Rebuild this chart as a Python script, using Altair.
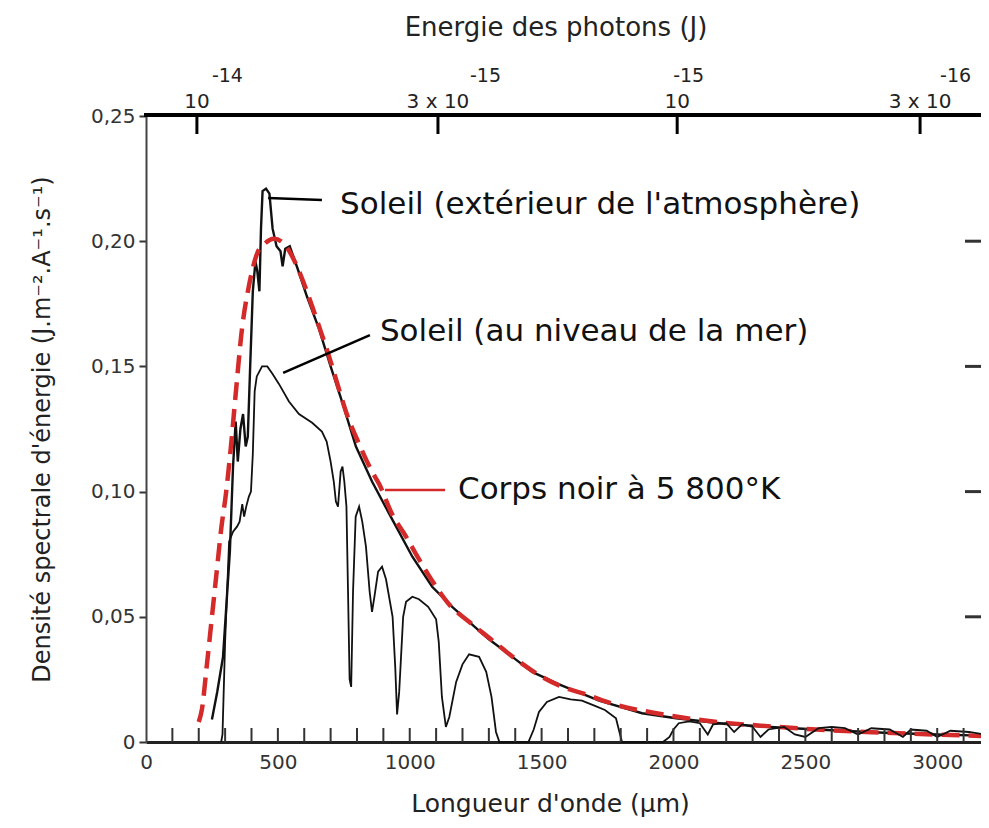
import altair as alt
import pandas as pd

# ---------------- data ----------------
# Corps noir à 5 800 K (red dashed)
bb_wl = [200, 212, 230, 250, 270, 285, 303, 322, 341, 364, 390, 421, 450, 485, 531, 554,
         592, 630, 656, 694, 720, 758, 808, 857, 884, 933, 986, 1035, 1100, 1149, 1225,
         1308, 1403, 1502, 1580, 1668, 1794, 1919, 2033, 2184, 2374, 2541, 2730, 2958, 3180]
bb_val = [0.008, 0.013, 0.030, 0.050, 0.070, 0.085, 0.099, 0.118, 0.140, 0.165, 0.182, 0.195,
          0.199, 0.201, 0.198, 0.194, 0.185, 0.174, 0.166, 0.154, 0.145, 0.132, 0.119, 0.108,
          0.103, 0.091, 0.082, 0.073, 0.062, 0.055, 0.048, 0.041, 0.033, 0.026, 0.022, 0.019,
          0.0145, 0.0118, 0.0098, 0.0078, 0.0062, 0.0050, 0.0040, 0.0031, 0.0024]

# Soleil (extérieur de l'atmosphère)
et_wl = [250, 270, 292, 305, 318, 330, 340, 348, 358, 368, 378, 386, 395, 405, 415, 422, 430,
         436, 442, 455, 468, 480, 495, 510, 518, 528, 545, 575, 610, 656, 700, 740, 796, 857,
         933, 1010, 1085, 1161, 1225, 1300, 1389, 1464, 1566, 1718, 1881, 2010, 2200, 2400,
         2600, 2800, 3000, 3180]
et_val = [0.009, 0.020, 0.034, 0.055, 0.076, 0.110, 0.128, 0.112, 0.125, 0.131, 0.118, 0.122,
          0.150, 0.180, 0.192, 0.188, 0.180, 0.205, 0.220, 0.221, 0.219, 0.205, 0.198, 0.196,
          0.190, 0.197, 0.198, 0.189, 0.178, 0.165, 0.150, 0.137, 0.118, 0.104, 0.089, 0.074,
          0.062, 0.054, 0.048, 0.041, 0.034, 0.028, 0.023, 0.0165, 0.0115, 0.0095, 0.0072,
          0.0058, 0.0047, 0.0037, 0.0030, 0.0025]

# Soleil (au niveau de la mer)
sea_wl = [285, 290, 300, 315, 330, 345, 355, 365, 372, 380, 390, 398, 405, 412, 420, 440, 460,
          480, 504, 542, 580, 630, 667, 685, 700, 712, 720, 728, 738, 745, 752, 760, 766, 772,
          778, 785, 795, 808, 820, 834, 848, 857, 866, 880, 895, 910, 925, 935, 945, 952, 960,
          967, 975, 986, 1010, 1035, 1070, 1100, 1110, 1122, 1137, 1150, 1176, 1200, 1225,
          1263, 1290, 1310, 1327, 1340, 1450, 1470, 1490, 1520, 1566, 1610, 1653, 1700, 1740,
          1782, 1795, 1805, 1960, 1985, 2000, 2020, 2060, 2100, 2130, 2150, 2200, 2230, 2260,
          2300, 2330, 2360, 2420, 2460, 2500, 2550, 2600, 2650, 2700, 2750, 2820, 2870, 2900,
          2960, 3000, 3050, 3120, 3180]
sea_val = [0.0, 0.003, 0.040, 0.080, 0.084, 0.086, 0.088, 0.095, 0.090, 0.094, 0.098, 0.100,
           0.115, 0.140, 0.146, 0.150, 0.150, 0.147, 0.143, 0.136, 0.131, 0.1275, 0.124, 0.120,
           0.112, 0.104, 0.096, 0.094, 0.108, 0.110, 0.104, 0.094, 0.060, 0.025, 0.022, 0.060,
           0.090, 0.094, 0.088, 0.078, 0.060, 0.052, 0.058, 0.068, 0.070, 0.065, 0.056, 0.050,
           0.030, 0.011, 0.020, 0.034, 0.050, 0.056, 0.058, 0.057, 0.054, 0.049, 0.040, 0.018,
           0.006, 0.010, 0.024, 0.031, 0.035, 0.034, 0.028, 0.018, 0.004, 0.0, 0.0, 0.005,
           0.012, 0.016, 0.018, 0.017, 0.0165, 0.0145, 0.0128, 0.0095, 0.004, 0.0, 0.0, 0.002,
           0.005, 0.0075, 0.0082, 0.0075, 0.003, 0.007, 0.0075, 0.004, 0.007, 0.006, 0.002,
           0.005, 0.006, 0.003, 0.002, 0.0055, 0.006, 0.0055, 0.003, 0.0055, 0.005, 0.002,
           0.005, 0.0045, 0.002, 0.0045, 0.004, 0.003]

x_label_values = [0, 500, 1000, 1500, 2000, 2500, 3000]
y_tick_values = [0, 0.05, 0.10, 0.15, 0.20, 0.25]
minor_ticks = list(range(100, 3200, 100))
right_ticks = [0.05, 0.10, 0.15, 0.20]

top_tick_pos = [193, 1107, 2014, 2935]
top_base = ["10", "3 x 10", "10", "3 x 10"]
top_exp = ["-14", "-15", "-15", "-16"]
top_exp_dx = [15, 32, -4, 20]

ann_text = ["Soleil (extérieur de l'atmosphère)", "Soleil (au niveau de la mer)",
            "Corps noir à 5 800°K"]
ann_wl = [736, 887, 1183]
ann_v = [0.2145, 0.1637, 0.1006]

lead_x1 = [463, 849, 906]
lead_y1 = [0.2173, 0.1625, 0.1006]
lead_x2 = [667, 520, 1134]
lead_y2 = [0.2165, 0.1474, 0.1006]
lead_col = ["black", "black", "#d42a2a"]

# ---------------- chart ----------------
W, H = 835, 626
XMAX = 3166
FONT = "DejaVu Sans"

xs = alt.Scale(domain=[0, XMAX], nice=False, zero=False)
ys = alt.Scale(domain=[0, 0.25], nice=False)

x_axis = alt.Axis(values=x_label_values, format="d", labelFont=FONT, labelFontSize=20,
                  labelColor="#333", labelFlush=False, tickSize=0, labelPadding=10,
                  domainColor="#222", domainWidth=3, grid=False,
                  title="Longueur d'onde (µm)", titleFont=FONT, titleFontSize=25,
                  titleFontWeight="normal", titleColor="#222", titlePadding=19,
                  titleX=404, titleAlign="center")
y_axis = alt.Axis(values=y_tick_values,
                  labelExpr="datum.value == 0 ? '0' : replace(format(datum.value, '.2f'), '.', ',')",
                  labelFont=FONT, labelFontSize=20, labelColor="#333", labelFlush=False,
                  tickSize=7, tickColor="#333", tickWidth=2, labelPadding=4,
                  domainColor="#444", domainWidth=2, grid=False,
                  title="Densité spectrale d'énergie (J.m⁻².A⁻¹.s⁻¹)", titleFont=FONT,
                  titleFontSize=24, titleFontWeight="normal", titleColor="#222",
                  titlePadding=36)


def X(f):
    return alt.X(f, scale=xs, axis=x_axis)


def Y(f):
    return alt.Y(f, scale=ys, axis=y_axis)


bb = pd.DataFrame({"wl": bb_wl, "v": bb_val})
et = pd.DataFrame({"wl": et_wl, "v": et_val})
sea = pd.DataFrame({"wl": sea_wl, "v": sea_val})

et_line = alt.Chart(et).mark_line(color="#111", strokeWidth=2.4).encode(
    x=X("wl:Q"), y=Y("v:Q"))
bb_line = alt.Chart(bb).mark_line(color="#d42a2a", strokeWidth=4.5, strokeDash=[18, 9],
                                  interpolate="monotone").encode(x=X("wl:Q"), y=Y("v:Q"))
sea_line = alt.Chart(sea).mark_line(color="#111", strokeWidth=1.8).encode(
    x=X("wl:Q"), y=Y("v:Q"))

# bottom inward ticks
minor = alt.Chart(pd.DataFrame({"wl": minor_ticks})).mark_rule(color="#333", strokeWidth=2).encode(
    x=X("wl:Q"), y=alt.value(H), y2=alt.value(H - 14))
# right inward ticks
right = alt.Chart(pd.DataFrame({"v": right_ticks})).mark_rule(color="#333", strokeWidth=3).encode(
    y=Y("v:Q"), x=alt.value(W - 16), x2=alt.value(W))
# top axis line
top_line = alt.Chart(pd.DataFrame({"a": [0]})).mark_rule(color="black", strokeWidth=4).encode(
    x=alt.value(-2), x2=alt.value(W), y=alt.value(-1))

top_df = pd.DataFrame({"wl": top_tick_pos, "base": top_base, "exp": top_exp,
                       "i": list(range(len(top_tick_pos)))})
top_ticks = alt.Chart(top_df).mark_rule(color="black", strokeWidth=3).encode(
    x=X("wl:Q"), y=alt.value(0), y2=alt.value(18))
top_base_txt = alt.Chart(top_df).mark_text(font=FONT, fontSize=20, color="#222", align="center",
                                           baseline="alphabetic").encode(
    x=X("wl:Q"), y=alt.value(-8), text="base:N")
top_exp_layers = [
    alt.Chart(top_df).transform_filter(f"datum.i == {k}").mark_text(
        font=FONT, fontSize=19, color="#222", align="left", baseline="alphabetic",
        dx=top_exp_dx[k]).encode(x=X("wl:Q"), y=alt.value(-34), text="exp:N")
    for k in range(len(top_tick_pos))
]
top_title = alt.Chart(pd.DataFrame({"t": ["Energie des photons (J)"]})).mark_text(
    font=FONT, fontSize=26, color="#222", align="center", baseline="middle").encode(
    x=alt.value(410), y=alt.value(-88), text="t:N")

lead = alt.Chart(pd.DataFrame({"wl": lead_x1, "v": lead_y1, "x2": lead_x2, "y2": lead_y2,
                               "c": lead_col})).mark_rule(strokeWidth=2.5).encode(
    x=X("wl:Q"), x2="x2:Q", y=Y("v:Q"), y2="y2:Q",
    color=alt.Color("c:N", scale=None))
ann = alt.Chart(pd.DataFrame({"wl": ann_wl, "v": ann_v, "t": ann_text})).mark_text(
    font=FONT, fontSize=31, color="#111", align="left", baseline="middle").encode(
    x=X("wl:Q"), y=Y("v:Q"), text="t:N")

chart = alt.layer(
    et_line, bb_line, sea_line, minor, right, top_line, top_ticks,
    top_base_txt, *top_exp_layers, top_title, lead, ann,
).properties(
    width=W, height=H,
    autosize=alt.AutoSizeParams(type="none"),
    padding={"left": 138, "top": 108, "right": 0, "bottom": 82},
).configure_view(stroke=None).configure(background="white")

chart.save("out.html", embed_options={"renderer": "svg", "actions": False})
